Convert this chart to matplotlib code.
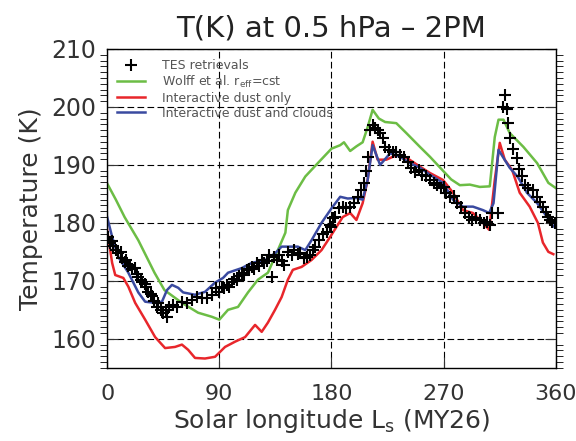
import matplotlib
matplotlib.use("Agg")
import matplotlib.pyplot as plt
from matplotlib.ticker import MultipleLocator

# --- data (Ls in degrees, T in K) ---
wolff_ls = [0, 7, 14, 25, 38, 46, 60, 73, 84, 90, 97, 105, 113, 121, 129, 136,
            143, 145, 151, 159, 169, 180, 187, 190, 195, 200, 205, 209, 213,
            218, 223, 232, 240, 251, 259, 269, 276, 283, 291, 299, 307, 311,
            314, 318, 323, 334, 345, 354, 360]
wolff_t = [186.8, 184.0, 181.0, 177.0, 171.4, 168.4, 166.2, 164.5, 163.8, 163.3,
           165.0, 165.5, 168.0, 170.2, 171.4, 174.8, 178.3, 182.2, 185.2, 188.0,
           190.3, 192.8, 193.4, 193.9, 192.4, 193.2, 193.9, 196.5, 199.5, 198.0,
           197.4, 197.2, 195.5, 193.1, 191.4, 189.1, 187.5, 186.5, 186.6, 186.2,
           186.3, 194.8, 197.8, 197.8, 195.5, 193.1, 190.3, 186.9, 186.0]

red_ls = [0, 4, 6.5, 13, 17, 22.5, 30.5, 38.5, 46.5, 54.5, 60, 65, 70.5, 78.5,
          86.6, 94.6, 102.6, 110.7, 118.7, 124, 129, 134.7, 140, 145, 149, 156,
          164, 172, 179, 189, 195, 200, 205, 209, 213, 217, 224, 232.5, 240.5,
          251, 259, 269.5, 277.5, 285.5, 293.5, 301.5, 306.5, 311, 315, 319,
          325, 331, 339, 345.6, 349.6, 354, 358]
red_t = [178.8, 173.1, 171.0, 170.5, 169.0, 166.2, 163.3, 160.3, 158.4, 158.6,
         159.0, 158.1, 156.7, 156.6, 156.9, 158.6, 159.5, 160.3, 162.4, 161.2,
         162.8, 165.0, 167.2, 170.2, 171.9, 172.4, 173.6, 175.3, 177.6, 181.0,
         181.7, 180.5, 183.4, 187.4, 194.0, 190.9, 190.9, 191.7, 191.2, 189.7,
         188.6, 187.4, 185.2, 182.2, 181.7, 180.0, 178.8, 187.4, 193.8, 190.9,
         189.1, 185.2, 182.8, 180.0, 176.6, 175.0, 174.6]

blue_ls = [0, 4, 9, 17, 25, 30.5, 38.5, 44, 48, 52, 57, 61, 70.5, 78.5, 86.6,
           93, 97, 108, 116, 127, 135, 140, 145, 153, 159, 164, 172, 180, 187,
           193, 200, 205, 209, 213, 219, 227, 235, 243, 251, 259, 269.5, 277.5,
           285.5, 293.5, 301.5, 306.5, 310, 314, 318, 323, 329.6, 336.8, 345,
           353, 358]
blue_t = [181.0, 177.6, 174.1, 171.4, 168.0, 166.4, 166.2, 166.4, 168.4, 169.3,
          168.8, 168.0, 167.6, 168.1, 169.7, 170.5, 171.4, 172.2, 173.1, 173.6,
          174.8, 175.9, 175.9, 175.9, 175.3, 177.0, 180.0, 182.5, 184.5, 184.2,
          184.3, 184.0, 187.4, 193.4, 190.0, 192.0, 191.4, 190.3, 189.5, 188.3,
          186.9, 184.0, 182.8, 182.8, 182.2, 181.7, 183.4, 192.6, 191.2, 189.5,
          187.9, 185.2, 183.4, 181.0, 179.4]

tes_ls = [1, 2.5, 4, 5, 7, 9, 11, 12, 14, 15, 17, 18, 20, 22, 24, 25, 27, 28, 30,
          31, 33, 35, 36, 38, 40, 41, 43, 45, 47, 48, 50, 53, 56, 60, 64, 68, 72,
          76, 80, 84, 87, 90, 92, 94, 96, 98, 100, 102, 104, 106, 108, 110, 112,
          114, 116, 118, 120, 122, 124, 126, 128, 130, 132, 134, 136, 138, 140,
          142, 145, 148, 150, 153, 155, 158, 160, 163, 165, 167, 170, 173, 176,
          179, 180, 181, 183, 186, 189, 192, 195, 198, 201, 204, 206, 208, 209,
          211, 213, 215, 217, 219, 221, 223, 226, 229, 232, 235, 238, 241, 244,
          247, 250, 253, 256, 259, 262, 265, 268, 270, 272, 275, 278, 281, 284,
          287, 290, 293, 296, 299, 302, 305, 307, 309, 313.5, 317.5, 319, 320.5,
          322, 323, 326, 328.5, 330.5, 332.5, 335, 337.6, 341.6, 344.8, 347,
          349.6, 352, 353.6, 355, 357, 359]
tes_t = [177.5, 176.6, 176.8, 176.0, 175.4, 174.8, 174.9, 174.0, 173.3, 173.6,
         172.5, 172.8, 172.0, 172.2, 171.1, 170.7, 170.2, 169.8, 169.4, 169.0,
         168.0, 167.8, 167.3, 166.5, 165.5, 166.1, 165.0, 164.5, 164.9, 163.8,
         165.5, 165.9, 165.5, 166.4, 166.2, 166.7, 167.2, 167.0, 167.1, 167.6,
         168.8, 168.1, 169.0, 168.8, 169.3, 169.0, 169.8, 170.3, 170.2, 170.8,
         171.4, 171.0, 171.9, 172.0, 172.4, 172.1, 173.1, 172.6, 173.6, 173.0,
         173.4, 174.4, 170.7, 174.1, 173.6, 174.5, 173.5, 172.8, 175.0, 174.4,
         175.3, 174.7, 174.8, 174.0, 174.1, 174.5, 175.4, 175.9, 177.0, 178.0,
         178.5, 179.7, 179.3, 180.9, 181.0, 182.6, 182.8, 182.6, 182.7, 183.4,
         184.5, 185.7, 186.9, 189.0, 191.4, 196.0, 196.9, 196.4, 196.0, 195.5,
         194.6, 193.1, 192.6, 192.2, 192.3, 191.7, 191.4, 190.5, 189.5, 188.8,
         189.1, 188.3, 188.0, 187.4, 186.9, 186.6, 186.0, 186.2, 185.2, 184.5,
         184.6, 183.4, 182.8, 181.7, 181.0, 180.5, 180.8, 180.5, 180.0, 180.2,
         179.6, 181.7, 181.7, 200.0, 202.0, 199.7, 197.2, 194.7, 192.8, 191.2,
         189.3, 188.0, 186.6, 186.0, 185.7, 184.5, 183.6, 182.8, 181.9, 181.0,
         180.5, 180.2, 180.0]

fig = plt.figure(figsize=(5.76, 4.41), dpi=100)
ax = fig.add_axes([0.186, 0.166, 0.779, 0.723])

ax.plot(tes_ls, tes_t, '+', color='black', markersize=9, markeredgewidth=1.5,
        label='TES retrievals', zorder=5)
ax.plot(wolff_ls, wolff_t, color='#6cbd45', lw=1.8,
        label=r'Wolff et al. r$_{\rm eff}$=cst')
ax.plot(red_ls, red_t, color='#e8262b', lw=1.8, label='Interactive dust only')
ax.plot(blue_ls, blue_t, color='#3a4aa0', lw=1.8,
        label='Interactive dust and clouds')

ax.set_xlim(0, 360)
ax.set_ylim(155, 210)
ax.xaxis.set_major_locator(MultipleLocator(90))
ax.yaxis.set_major_locator(MultipleLocator(10))
ax.yaxis.set_minor_locator(MultipleLocator(1))
ax.tick_params(direction='in', labelsize=17, colors='#333333', pad=8)
ax.tick_params(axis='x', labelsize=16)
ax.tick_params(axis='y', which='both', right=True)
ax.tick_params(axis='y', which='minor', length=5)
ax.tick_params(axis='both', which='major', length=8)
ax.tick_params(axis='x', which='major', pad=12)
for sp in ax.spines.values():
    sp.set_linewidth(1.0)

ax.grid(True, which='major', color='black', linestyle=(0, (6, 3)), lw=0.8)

ax.set_title('T(K) at 0.5 hPa \u2013 2PM', fontsize=21, color='#222222', pad=9)
ax.set_xlabel(r'Solar longitude L$_{\rm s}$ (MY26)', fontsize=18,
              color='#333333', labelpad=2)
ax.set_ylabel('Temperature (K)', fontsize=18, color='#333333', labelpad=6)

leg = ax.legend(loc='upper left', frameon=False, fontsize=9, handlelength=2.2,
                handletextpad=1.4, borderaxespad=0.3, borderpad=0.5,
                labelspacing=0.15)
for t in leg.get_texts():
    t.set_color('#555555')

fig.savefig('out.png', dpi=100)
